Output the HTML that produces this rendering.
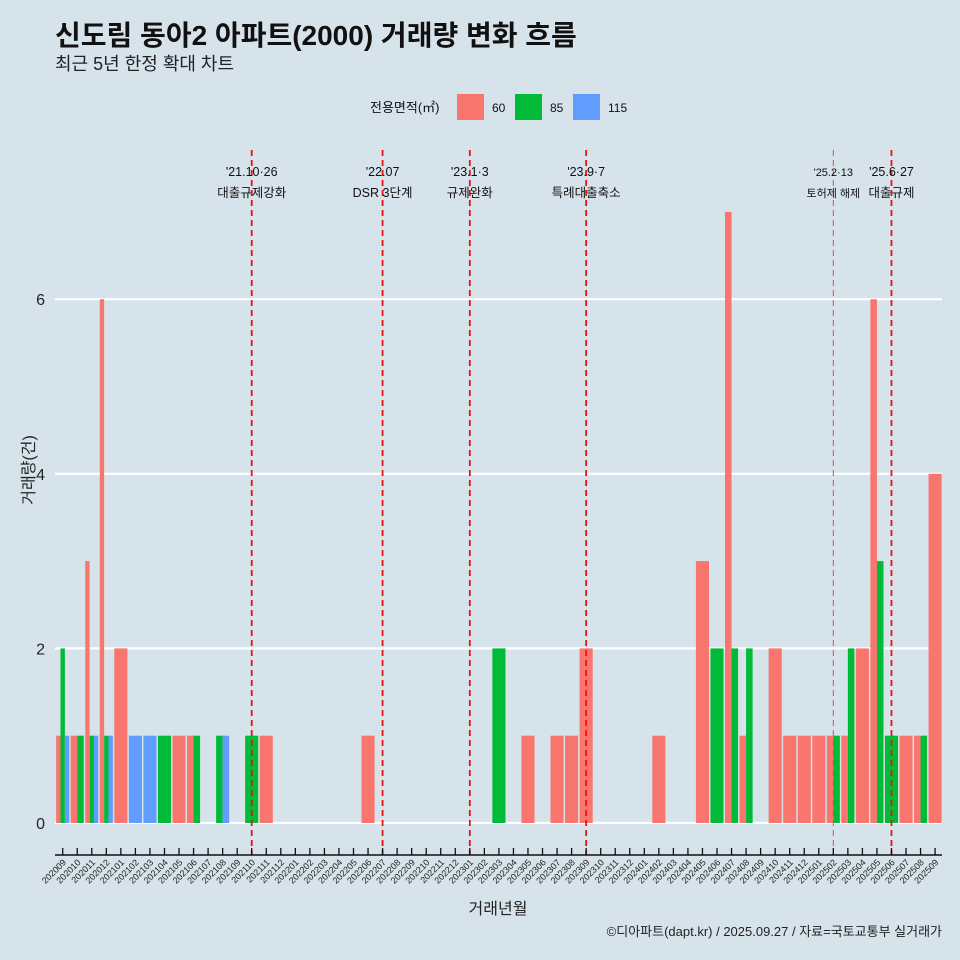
<!DOCTYPE html>
<html><head><meta charset="utf-8">
<style>
body{margin:0;background:#d6e3ea;}
svg{display:block;font-family:"Liberation Sans","Noto Sans CJK KR",sans-serif;}
</style></head>
<body>
<svg id="chart" width="960" height="960" xmlns="http://www.w3.org/2000/svg">
<rect width="960" height="960" fill="#d6e3ea"/>
<text x="55" y="45" font-size="28" font-weight="bold" fill="#111">신도림 동아2 아파트(2000) 거래량 변화 흐름</text>
<text x="55" y="70" font-size="18" fill="#222">최근 5년 한정 확대 차트</text>
<g>
<text x="370" y="112" font-size="13" fill="#111">전용면적(㎡)</text>
<rect x="457" y="94" width="27" height="26" fill="#f8766d"/>
<text x="492" y="112" font-size="12" fill="#111">60</text>
<rect x="515" y="94" width="27" height="26" fill="#00ba38"/>
<text x="550" y="112" font-size="12" fill="#111">85</text>
<rect x="573" y="94" width="27" height="26" fill="#619cff"/>
<text x="608" y="112" font-size="12" fill="#111">115</text>
</g>
<g id="grid"></g><g id="bars"></g><g id="events"></g><g id="axes"></g>
<text transform="translate(34,470) rotate(-90)" text-anchor="middle" font-size="16" fill="#222">거래량(건)</text>
<text x="498" y="914" text-anchor="middle" font-size="16" fill="#222">거래년월</text>
<text x="942" y="936" text-anchor="end" font-size="13" fill="#222">©디아파트(dapt.kr) / 2025.09.27 / 자료=국토교통부 실거래가</text>
</svg>
<script>
const months=[];for(let y=2020,m=9;y*100+m<=202509;){months.push(''+y+(m<10?'0':'')+m);m++;if(m>12){m=1;y++;}}
const sizes=['60','85','115'];
const colors={'60':'#f8766d','85':'#00ba38','115':'#619cff'};
const s60={'202009':1,'202010':1,'202011':3,'202012':6,'202101':2,'202105':1,'202106':1,'202111':1,'202206':1,'202305':1,'202307':1,'202308':1,'202309':2,'202402':1,'202405':3,'202407':7,'202408':1,'202410':2,'202411':1,'202412':1,'202501':1,'202502':1,'202503':1,'202504':2,'202505':6,'202507':1,'202508':1,'202509':4};
const s85={'202009':2,'202010':1,'202011':1,'202012':1,'202104':1,'202106':1,'202108':1,'202110':1,'202303':2,'202406':2,'202407':2,'202408':2,'202502':1,'202503':2,'202505':3,'202506':1,'202508':1};
const s115={'202009':1,'202011':1,'202012':1,'202102':1,'202103':1,'202108':1};
const series={'60':s60,'85':s85,'115':s115};
const yTicks=[0,2,4,6];
const evMonths=['202110','202207','202301','202309','202502','202506'];
const evDates=["'21.10·26","'22.07","'23.1·3","'23.9·7","'25.2·13","'25.6·27"];
const evTexts=['대출규제강화','DSR 3단계','규제완화','특례대출축소','토허제 해제','대출규제'];
const NS='http://www.w3.org/2000/svg';
const x0=62.7,step=14.54,y0=823,unit=87.3;
const X=i=>x0+i*step, Y=v=>y0-v*unit;
function mk(t,a,p){const e=document.createElementNS(NS,t);for(const k in a)e.setAttribute(k,a[k]);document.getElementById(p).appendChild(e);return e;}
yTicks.forEach(v=>{
 const l=mk('line',{x1:55,x2:942,y1:Y(v),y2:Y(v),stroke:'#fff','stroke-width':2.2},'grid');
 
 
 const t=mk('text',{x:45,y:Y(v)+6,'text-anchor':'end','font-size':16,fill:'#222'},'axes');t.textContent=v;
 
 
});
months.forEach((m,i)=>{
 const present=sizes.filter(s=>series[s][m]);
 const w=step*0.9/ (present.length||1);
 present.forEach((s,j)=>{
  const v=series[s][m];
  const r=mk('rect',{x:X(i)-step*0.45+j*w,y:Y(v),width:w,height:v*unit,fill:colors[s]},'bars');
  
  
 });
 const tk=mk('line',{x1:X(i),x2:X(i),y1:848,y2:855,stroke:'#111','stroke-width':1.3},'axes');
 
 
 const t=mk('text',{transform:`translate(${X(i)+4},863) rotate(-45)`,'text-anchor':'end','font-size':9,fill:'#222'},'axes');t.textContent=m;
 
 
});
const ax=mk('line',{x1:55,x2:942,y1:855,y2:855,stroke:'#111','stroke-width':1.5},'axes');


evMonths.forEach((m,k)=>{
 const i=months.indexOf(m),x=X(i);
 const thin=m==='202502';
 const l=mk('line',{x1:x,x2:x,y1:150,y2:855,stroke:thin?'#e84a4a':'#ee1111','stroke-width':thin?1:1.8,'stroke-dasharray':'6,4'},'events');
 
 
 const fs=thin?11:12.5;
 const d=mk('text',{x:x,y:176,'text-anchor':'middle','font-size':fs,fill:'#111'},'events');d.textContent=evDates[k];
 
 
 const t=mk('text',{x:x,y:197,'text-anchor':'middle','font-size':fs,fill:'#111'},'events');t.textContent=evTexts[k];
 
 
});
</script>
</body></html>
